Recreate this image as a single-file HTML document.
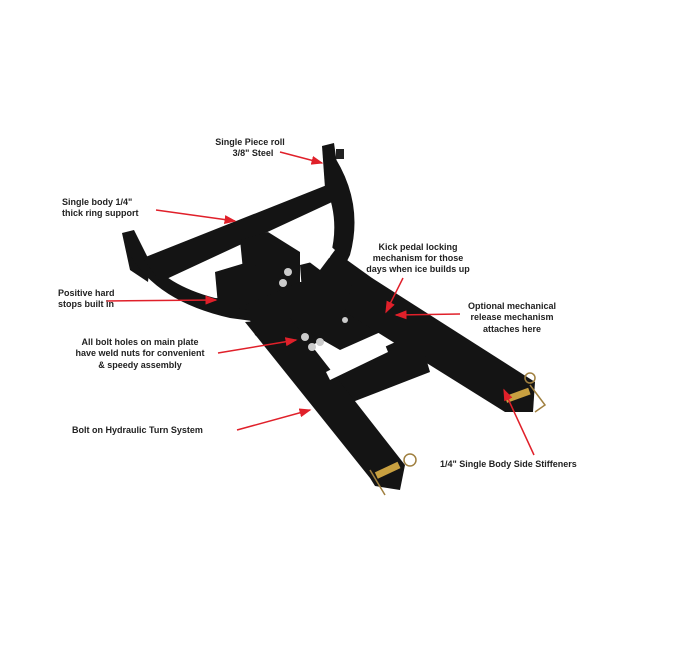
<!DOCTYPE html>
<html><head><style>
html,body{margin:0;padding:0;background:#fff;}
body{width:675px;height:647px;position:relative;overflow:hidden;}
svg{position:absolute;left:0;top:0;}
text{font-family:"Liberation Sans",sans-serif;font-weight:bold;font-size:9px;fill:#222;}
</style></head><body>
<svg width="675" height="647" viewBox="0 0 675 647">
<defs><marker id="a" markerWidth="8" markerHeight="6" refX="7" refY="3" orient="auto"><path d="M0,0L8,3L0,6z" fill="#e0202a"/></marker></defs>
<g fill="#141414">
<polygon points="122,233 134,230 150,262 148,282 130,270"/>
<path d="M125,245 Q150,300 230,318 L260,322 L262,300 L215,298 Q165,285 145,255 Z"/>
<polygon points="143,258 332,183 345,196 160,282"/>
<polygon points="322,146 334,143 340,185 325,188"/>
<rect x="336" y="149" width="8" height="10" fill="#222"/>
<path d="M330,150 Q365,200 350,255 L335,285 L322,278 Q345,230 325,185 Z"/>
<polygon points="240,240 268,232 300,245 300,300 262,310 245,290"/>
<polygon points="215,272 255,260 260,312 218,305"/>
<polygon points="245,305 300,282 355,280 365,300 340,330 285,360 255,335"/>
<polygon points="300,265 340,255 372,278 395,300 385,330 340,350 305,330"/>
<polygon points="352,283 372,278 535,382 533,412 505,412 345,312"/>
<polygon points="300,385 400,340 425,355 430,372 337,408 315,402"/>
<polygon points="245,322 290,318 405,465 400,490 375,486 370,478"/>
</g>
<polygon points="326,372 384,342 388,352 330,380" fill="#fff"/>
<polygon points="268,232 300,220 330,240 300,252" fill="#fff"/>
<polygon points="300,255 318,235 335,250 320,270" fill="#fff"/>
<g fill="#ccc"><circle cx="288" cy="272" r="4"/><circle cx="283" cy="283" r="4"/><circle cx="305" cy="337" r="4"/><circle cx="312" cy="347" r="4"/><circle cx="320" cy="342" r="4"/><circle cx="345" cy="320" r="3"/></g>
<g fill="#c8a040"><rect x="375" y="467" width="25" height="7" transform="rotate(-25 387 470)"/><rect x="505" y="392" width="25" height="7" transform="rotate(-20 517 395)"/></g>
<g fill="none" stroke="#a08040" stroke-width="1.5"><path d="M370,470 L385,495"/><path d="M530,385 L545,405 L535,412"/><circle cx="410" cy="460" r="6"/><circle cx="530" cy="378" r="5"/></g>
<g stroke="#e0202a" stroke-width="1.5" fill="none" marker-end="url(#a)">
<line x1="280" y1="152" x2="322" y2="163"/>
<line x1="156" y1="210" x2="235" y2="221"/>
<line x1="403" y1="278" x2="386" y2="312"/>
<line x1="106" y1="301" x2="216" y2="300"/>
<line x1="460" y1="314" x2="396" y2="315"/>
<line x1="218" y1="353" x2="296" y2="340"/>
<line x1="237" y1="430" x2="310" y2="410"/>
<line x1="534" y1="455" x2="504" y2="390"/>
</g>
<text x="250" y="145" text-anchor="middle">Single Piece roll</text>
<text x="253" y="156" text-anchor="middle">3/8" Steel</text>
<text x="62" y="205">Single body 1/4"</text>
<text x="62" y="216">thick ring support</text>
<text x="418" y="250" text-anchor="middle">Kick pedal locking</text>
<text x="418" y="261" text-anchor="middle">mechanism for those</text>
<text x="418" y="272" text-anchor="middle">days when ice builds up</text>
<text x="58" y="296">Positive hard</text>
<text x="58" y="307">stops built in</text>
<text x="512" y="309" text-anchor="middle">Optional mechanical</text>
<text x="512" y="320" text-anchor="middle">release mechanism</text>
<text x="512" y="332" text-anchor="middle">attaches here</text>
<text x="140" y="345" text-anchor="middle">All bolt holes on main plate</text>
<text x="140" y="356" text-anchor="middle">have weld nuts for convenient</text>
<text x="140" y="368" text-anchor="middle">&amp; speedy assembly</text>
<text x="72" y="433">Bolt on Hydraulic Turn System</text>
<text x="440" y="467">1/4" Single Body Side Stiffeners</text>
</svg>
</body></html>
